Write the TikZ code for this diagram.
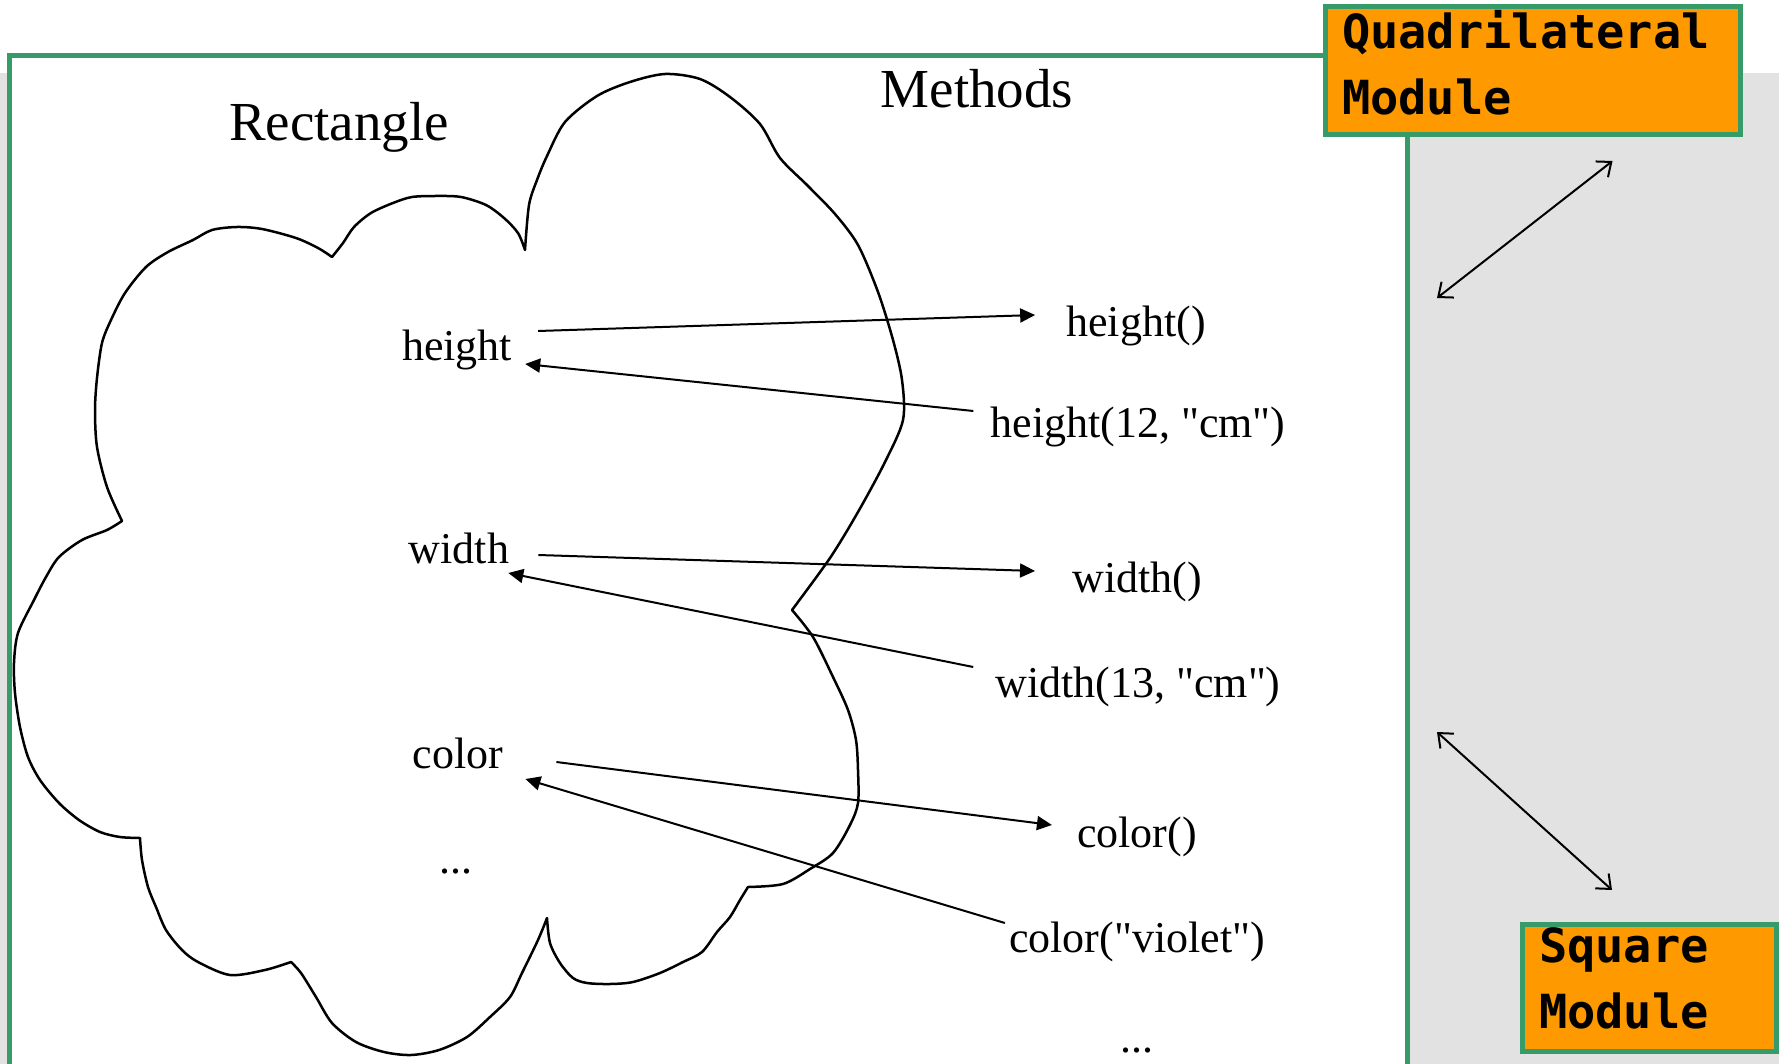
\documentclass[tikz,border=0pt]{standalone}
\usepackage{fontspec}
\setmainfont{Liberation Serif}[Ligatures=TeXOff]
\newfontfamily\modfont{DejaVu Sans Mono}
\usepackage{xcolor}
\usepackage{tikz}
\usetikzlibrary{arrows.meta,calc,positioning}
\definecolor{framegreen}{RGB}{54,155,104}
\definecolor{modorange}{RGB}{255,153,0}
\definecolor{slidegray}{RGB}{226,226,226}

\begin{document}
\begin{tikzpicture}[x=1pt,y=-1pt,
  lbl/.style={inner sep=0pt,anchor=base,text height=30pt,text depth=10pt,font=\fontsize{44}{50}\selectfont},
  head/.style={inner sep=0pt,anchor=base,font=\fontsize{55}{60}\selectfont},
  modbox/.style={draw=framegreen,line width=5pt,fill=modorange,anchor=north west,outer sep=0pt,inner xsep=17pt,inner ysep=0pt,align=left,font=\modfont\bfseries\fontsize{47}{66}\selectfont},
  arr/.style={line width=2pt,-{Triangle[length=15pt,width=14pt]}},
  link/.style={line width=2pt,{Straight Barb[length=12pt,width=20pt]}-{Straight Barb[length=12pt,width=20pt]}},
  cloud/.style={line width=2.5pt,line join=round}]
\useasboundingbox (0,0) rectangle (1779,1064);
\fill[slidegray] (0,73) rectangle (1779,1064);
\draw[framegreen,fill=white,line width=5pt] (9,55.5) rectangle (1407.5,1066);
\draw[cloud] plot[smooth] coordinates {(122,521) (107,487) (97,447) (95,410) (97,378) (102,343) (111,320) (125,293) (146,267) (168,252) (193,240) (212,230) (237,227) (262,229) (296,238) (318,248) (332,257)}
  -- plot[smooth] coordinates {(332,257) (343,243) (354,227) (371,213) (393,203) (412,197) (437,196) (461,197) (486,205) (504,218) (518,233) (525,250)}
  -- plot[smooth] coordinates {(525,250) (529,205) (537,180) (547,156) (565,122) (597,96) (630,82) (665,74) (700,79) (730,97) (760,124) (780,158) (808,186) (835,214) (858,245) (878,292) (893,340) (902,380) (903,420) (885,462) (858,512) (830,558) (792,610)}
  -- plot[smooth] coordinates {(792,610) (813,637) (833,677) (848,710) (856,740) (858,770) (858,803) (850,825) (833,853) (810,869) (783,884) (748,887)}
  -- plot[smooth] coordinates {(748,887) (740,900) (730,917) (717,932) (702,952) (683,962) (660,973) (633,982) (610,984) (587,983) (573,978) (560,963) (550,943) (547,918)}
  -- plot[smooth] coordinates {(547,918) (538,940) (522,973) (510,997) (490,1017) (467,1037) (439,1050) (411,1055) (384,1052) (356,1042) (332,1023) (316,997) (301,973) (291,962)}
  -- plot[smooth] coordinates {(291,962) (265,970) (230,975) (198,962) (182,950) (166,930) (156,907) (148,887) (142,860) (140,838)}
  -- plot[smooth] coordinates {(140,838) (120,837) (100,832) (79,820) (59,803) (40,780) (28,757) (20,727) (15,693) (14,663) (18,633) (34,600) (46,577) (59,557) (82,540) (107,530) (122,521)} -- cycle;
\node[head] (rect) at (339,141) {Rectangle};
\node[head] (meth) at (977,108) {Methods};
\node[lbl] (hL) at (457,360) {height};
\node[lbl] (wL) at (459,563) {width};
\node[lbl] (cL) at (458,768) {color};
\node[lbl] (dL) at (456,873) {...};
\node[lbl] (hR) at (1136,337) {height()};
\node[lbl] (hR2) at (1138,437) {height(12, "cm")};
\node[lbl] (wR) at (1137,592) {width()};
\node[lbl] (wR2) at (1138,697) {width(13, "cm")};
\node[lbl] (cR) at (1137,847) {color()};
\node[lbl] (cR2) at (1137,952) {color("violet")};
\node[lbl] (dR) at (1137,1052) {...};
\draw[arr] ([shift={(26,-19)}]hL.east) -- ([shift={(-31,-12)}]hR.west);
\draw[arr] ([shift={(-17,-16)}]hR2.west) -- ([shift={(13,14)}]hL.east);
\draw[arr] ([shift={(29,2)}]wL.east) -- ([shift={(-37,-11)}]wR.west);
\draw[arr] ([shift={(-22,-20)}]wR2.west) -- ([shift={(-1,20)}]wL.east);
\draw[arr] ([shift={(53,4)}]cL.east) -- ([shift={(-25,-12)}]cR.west);
\draw[arr] ([shift={(-4,-19)}]cR2.west) -- ([shift={(22,21)}]cL.east);
\node[modbox,text width=381pt,minimum height=128pt] (quad) at (1325,7) {Quadrilateral\\Module\rule[-18pt]{0pt}{18pt}};
\node[modbox,text width=220pt,minimum height=127pt] (sq) at (1522,924) {Square\\Module\rule[-18pt]{0pt}{18pt}};
\coordinate (qend) at (1437,298);
\coordinate (send) at (1437,732);
\draw[link] (qend) -- ([shift={(80,26)}]quad.south);
\draw[link] (send) -- ([shift={(-37,-34)}]sq.north);
\end{tikzpicture}
\end{document}
